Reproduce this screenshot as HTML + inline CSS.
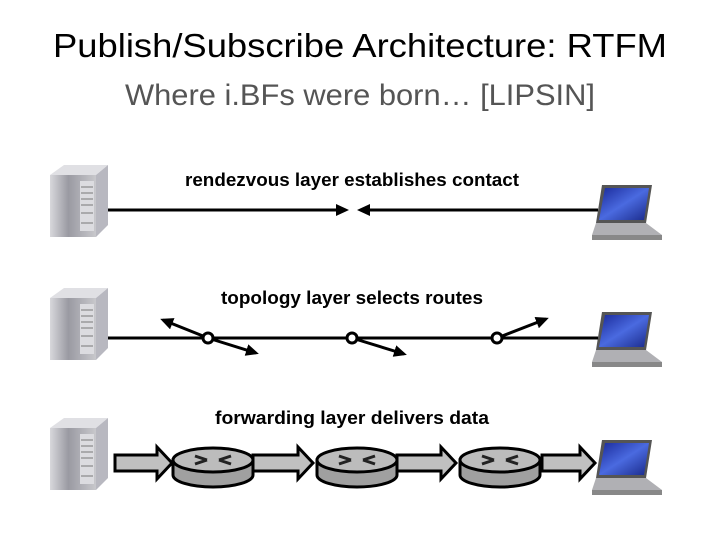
<!DOCTYPE html>
<html><head><style>body{margin:0;background:#fff}svg{display:block}</style></head><body>
<svg width="720" height="540" viewBox="0 0 720 540" xmlns="http://www.w3.org/2000/svg" font-family="Liberation Sans, sans-serif">
<defs>
<linearGradient id="srv" x1="0" x2="1"><stop offset="0" stop-color="#d8d8dc"/><stop offset="0.4" stop-color="#9a9aa2"/><stop offset="1" stop-color="#c8c8cc"/></linearGradient>
<linearGradient id="scr" x1="0" y1="0" x2="1" y2="1"><stop offset="0" stop-color="#1a2a9a"/><stop offset="0.5" stop-color="#4a6ae0"/><stop offset="1" stop-color="#1a2a8a"/></linearGradient>
<g id="server">
<polygon points="0,10 14,0 58,0 46,10" fill="#e0e0e4"/>
<rect x="0" y="10" width="46" height="62" fill="url(#srv)"/>
<polygon points="46,10 58,0 58,60 46,72" fill="#b8b8c0"/>
<rect x="30" y="16" width="14" height="50" fill="#dcdce0"/>
<g stroke="#777" stroke-width="1"><line x1="31" y1="22" x2="43" y2="22"/><line x1="31" y1="28" x2="43" y2="28"/><line x1="31" y1="34" x2="43" y2="34"/><line x1="31" y1="40" x2="43" y2="40"/><line x1="31" y1="48" x2="43" y2="48"/><line x1="31" y1="58" x2="43" y2="58"/></g>
</g>
<g id="laptop">
<polygon points="10,0 60,0 54,38 4,38" fill="#555"/>
<polygon points="13,3 57,3 52,35 7,35" fill="url(#scr)"/>
<polygon points="4,38 54,38 70,50 0,50" fill="#b0b0b4"/>
<polygon points="0,50 70,50 70,55 0,55" fill="#888"/>
</g>
<g id="router">
<path d="M0,10 L0,25 A40,12 0 0 0 80,25 L80,10 Z" fill="#a0a0a0" stroke="#000" stroke-width="3"/>
<ellipse cx="40" cy="10" rx="40" ry="12" fill="#bcbcbc" stroke="#000" stroke-width="3"/>
<path d="M22,6 L34,10 M58,6 L46,10 M22,14 L34,10 M58,14 L46,10" stroke="#222" stroke-width="3"/>
</g>
<marker id="ah" markerWidth="14" markerHeight="12" refX="10" refY="6" orient="auto" markerUnits="userSpaceOnUse"><polygon points="0,0 13,6 0,12" fill="#000"/></marker>
</defs>
<text x="360" y="57" font-size="33" text-anchor="middle" fill="#000" textLength="614" lengthAdjust="spacingAndGlyphs">Publish/Subscribe Architecture: RTFM</text>
<text x="360" y="105" font-size="30" text-anchor="middle" fill="#555" textLength="470" lengthAdjust="spacingAndGlyphs">Where i.BFs were born… [LIPSIN]</text>

<!-- row 1 -->
<use href="#server" x="50" y="165"/>
<use href="#laptop" x="592" y="185"/>
<text x="352" y="186" font-size="18" font-weight="bold" text-anchor="middle" textLength="334" lengthAdjust="spacingAndGlyphs">rendezvous layer establishes contact</text>
<line x1="108" y1="210" x2="346" y2="210" stroke="#000" stroke-width="3" marker-end="url(#ah)"/>
<line x1="598" y1="210" x2="360" y2="210" stroke="#000" stroke-width="3" marker-end="url(#ah)"/>

<!-- row 2 -->
<use href="#server" x="50" y="288"/>
<use href="#laptop" x="592" y="312"/>
<text x="352" y="304" font-size="18" font-weight="bold" text-anchor="middle" textLength="262" lengthAdjust="spacingAndGlyphs">topology layer selects routes</text>
<line x1="108" y1="338" x2="598" y2="338" stroke="#000" stroke-width="3"/>
<line x1="208" y1="338" x2="163" y2="320" stroke="#000" stroke-width="3" marker-end="url(#ah)"/>
<line x1="208" y1="338" x2="256" y2="353" stroke="#000" stroke-width="3" marker-end="url(#ah)"/>
<line x1="352" y1="338" x2="404" y2="354" stroke="#000" stroke-width="3" marker-end="url(#ah)"/>
<line x1="497" y1="338" x2="546" y2="319" stroke="#000" stroke-width="3" marker-end="url(#ah)"/>
<g fill="#fff" stroke="#000" stroke-width="3"><circle cx="208" cy="338" r="5"/><circle cx="352" cy="338" r="5"/><circle cx="497" cy="338" r="5"/></g>

<!-- row 3 -->
<use href="#server" x="50" y="418"/>
<use href="#laptop" x="592" y="440"/>
<text x="352" y="424" font-size="18" font-weight="bold" text-anchor="middle" textLength="274" lengthAdjust="spacingAndGlyphs">forwarding layer delivers data</text>
<g fill="#c0c0c0" stroke="#000" stroke-width="3">
<polygon points="115,455 157,455 157,447 172,463 157,479 157,471 115,471"/>
<polygon points="253,455 298,455 298,447 313,463 298,479 298,471 253,471"/>
<polygon points="397,455 441,455 441,447 456,463 441,479 441,471 397,471"/>
<polygon points="542,455 580,455 580,447 595,463 580,479 580,471 542,471"/>
</g>
<use href="#router" x="173" y="450"/>
<use href="#router" x="317" y="450"/>
<use href="#router" x="460" y="450"/>
</svg>
</body></html>
